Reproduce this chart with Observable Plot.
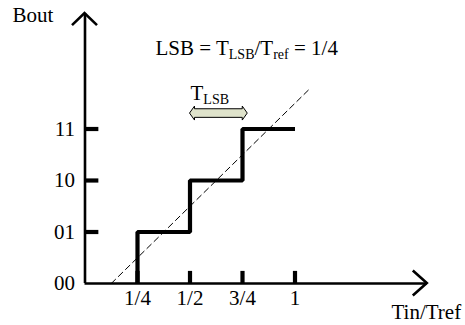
<!DOCTYPE html>
<html>
<head>
<meta charset="utf-8">
<script src="https://cdn.jsdelivr.net/npm/d3@7"></script>
<script src="https://cdn.jsdelivr.net/npm/@observablehq/plot@0.6"></script>
<style>
  html, body { margin: 0; padding: 0; background: #fff; }
  svg { display: block; }
  svg text { font-family: "Liberation Serif", "Times New Roman", serif !important; font-weight: normal; }
</style>
</head>
<body>
<div id="chart"></div>
<script>
// ---- data ----
const codeLabels = ["00", "01", "10", "11"];          // output codes (Bout)
const codeValues = [0, 1, 2, 3];
const xTickLabels = ["1/4", "1/2", "3/4", "1"];       // Tin/Tref ticks
const xTickValues = [0.25, 0.5, 0.75, 1];
const stepX = [0.25, 0.25, 0.5, 0.5, 0.75, 0.75, 1];  // staircase transfer
const stepY = [0, 1, 1, 2, 2, 3, 3];
const idealX = [0.125, 1.065];                        // dashed ideal line
const idealY = [0, 3.76];
const axisXEnd = 1.63;
const axisYEnd = 5.24;
const tlsbSpan = [0.5, 0.775];                        // T_LSB double arrow
const tlsbLevel = 3.30;
const titleText = "LSB = T_{LSB}/T_{ref} = 1/4";
const tlsbText = "T_{LSB}";
const yTitle = "Bout";
const xTitle = "Tin/Tref";

const font = "'Liberation Serif', 'Times New Roman', serif";
const fs = 21;

const stepData = stepX.map((x, i) => ({x, y: stepY[i]}));
const idealData = idealX.map((x, i) => ({x, y: idealY[i]}));
const yLabelData = codeValues.map((v, i) => ({y: v, label: codeLabels[i]}));
const xLabelData = xTickValues.map((v, i) => ({x: v, label: xTickLabels[i]}));

// chevron arrowheads at axis ends (drawn through the scales)
function chevrons(index, scales) {
  const {x, y} = scales;
  const g = d3.create("svg:g")
    .attr("fill", "none").attr("stroke", "#000").attr("stroke-width", 2.6)
    .attr("stroke-linejoin", "miter");
  const tx = x(0), ty = y(axisYEnd);
  g.append("path").attr("d", `M${tx - 12.5},${ty + 12} L${tx},${ty} L${tx + 12.5},${ty + 12}`);
  const rx = x(axisXEnd), ry = y(0);
  g.append("path").attr("d", `M${rx - 14},${ry - 12.5} L${rx},${ry} L${rx - 14},${ry + 12.5}`);
  return g.node();
}

// block double arrow for T_LSB
function blockArrow(index, scales) {
  const {x, y} = scales;
  const L = x(tlsbSpan[0]), R = x(tlsbSpan[1]), cy = y(tlsbLevel);
  const hl = 5, sh = 4.3, hh = 7;
  const d = `M${L},${cy} L${L + hl},${cy - hh} L${L + hl},${cy - sh} L${R - hl},${cy - sh} L${R - hl},${cy - hh} L${R},${cy} L${R - hl},${cy + hh} L${R - hl},${cy + sh} L${L + hl},${cy + sh} L${L + hl},${cy + hh} Z`;
  return d3.create("svg:path")
    .attr("d", d).attr("fill", "#dfe3cb").attr("stroke", "#000")
    .attr("stroke-width", 1).attr("stroke-linejoin", "round").node();
}

const textOpts = {fontSize: fs, fill: "#000", fontFamily: font, fontWeight: "normal"};

const plot = Plot.plot({
  width: 465,
  height: 325,
  margin: 0,
  style: {fontFamily: font, background: "#fff"},
  x: {domain: [0, 1], range: [84.5, 294.5], axis: null},
  y: {domain: [0, 3], range: [283, 128.5], axis: null},
  marks: [
    // axes
    Plot.ruleY([0], {x1: 0, x2: axisXEnd, stroke: "#000", strokeWidth: 2.6}),
    Plot.ruleX([0], {y1: 0, y2: axisYEnd, stroke: "#000", strokeWidth: 2.6}),
    chevrons,
    // ticks
    Plot.ruleY(codeValues.slice(1), {x1: 0, x2: 0.066, stroke: "#000", strokeWidth: 4.2}),
    Plot.ruleX(xTickValues, {y1: 0, y2: 0.235, stroke: "#000", strokeWidth: 4.2}),
    // tick labels
    Plot.text(yLabelData, {x: 0, y: "y", text: "label", dx: -10, textAnchor: "end", ...textOpts}),
    Plot.text(xLabelData, {x: "x", y: 0, text: "label", dy: 15, textAnchor: "middle", ...textOpts}),
    // ideal dashed line
    Plot.line(idealData, {x: "x", y: "y", stroke: "#000", strokeWidth: 1,
      strokeDasharray: "6,4"}),
    // staircase
    Plot.line(stepData, {x: "x", y: "y", stroke: "#000", strokeWidth: 4.2,
      strokeLinejoin: "miter", strokeLinecap: "butt"}),
    // T_LSB arrow
    blockArrow,
    // titles
    Plot.text([yTitle], {frameAnchor: "top-left", dx: 12, dy: 15, textAnchor: "start",
      lineAnchor: "middle", ...textOpts}),
    Plot.text([xTitle], {frameAnchor: "top-left", dx: 391, dy: 312, textAnchor: "start",
      lineAnchor: "middle", ...textOpts}),
    Plot.text([titleText], {frameAnchor: "top-left", dx: 155, dy: 48, textAnchor: "start",
      lineAnchor: "middle", ...textOpts}),
    Plot.text([tlsbText], {frameAnchor: "top-left", dx: 190, dy: 93, textAnchor: "start",
      lineAnchor: "middle", ...textOpts})
  ]
});

// turn "_{...}" markup into real subscript tspans
d3.select(plot).selectAll("text").each(function () {
  const t = this.textContent;
  if (!t.includes("_{")) return;
  const parts = t.split(/(_\{[^}]*\})/).filter(s => s.length);
  const el = d3.select(this);
  el.text(null);
  let sub = false;
  for (const p of parts) {
    if (p.startsWith("_{")) {
      el.append("tspan").attr("font-size", 14).attr("dy", 4).text(p.slice(2, -1));
      sub = true;
    } else {
      const ts = el.append("tspan").text(p);
      if (sub) { ts.attr("dy", -4); sub = false; }
    }
  }
});

document.getElementById("chart").appendChild(plot);
</script>
</body>
</html>
